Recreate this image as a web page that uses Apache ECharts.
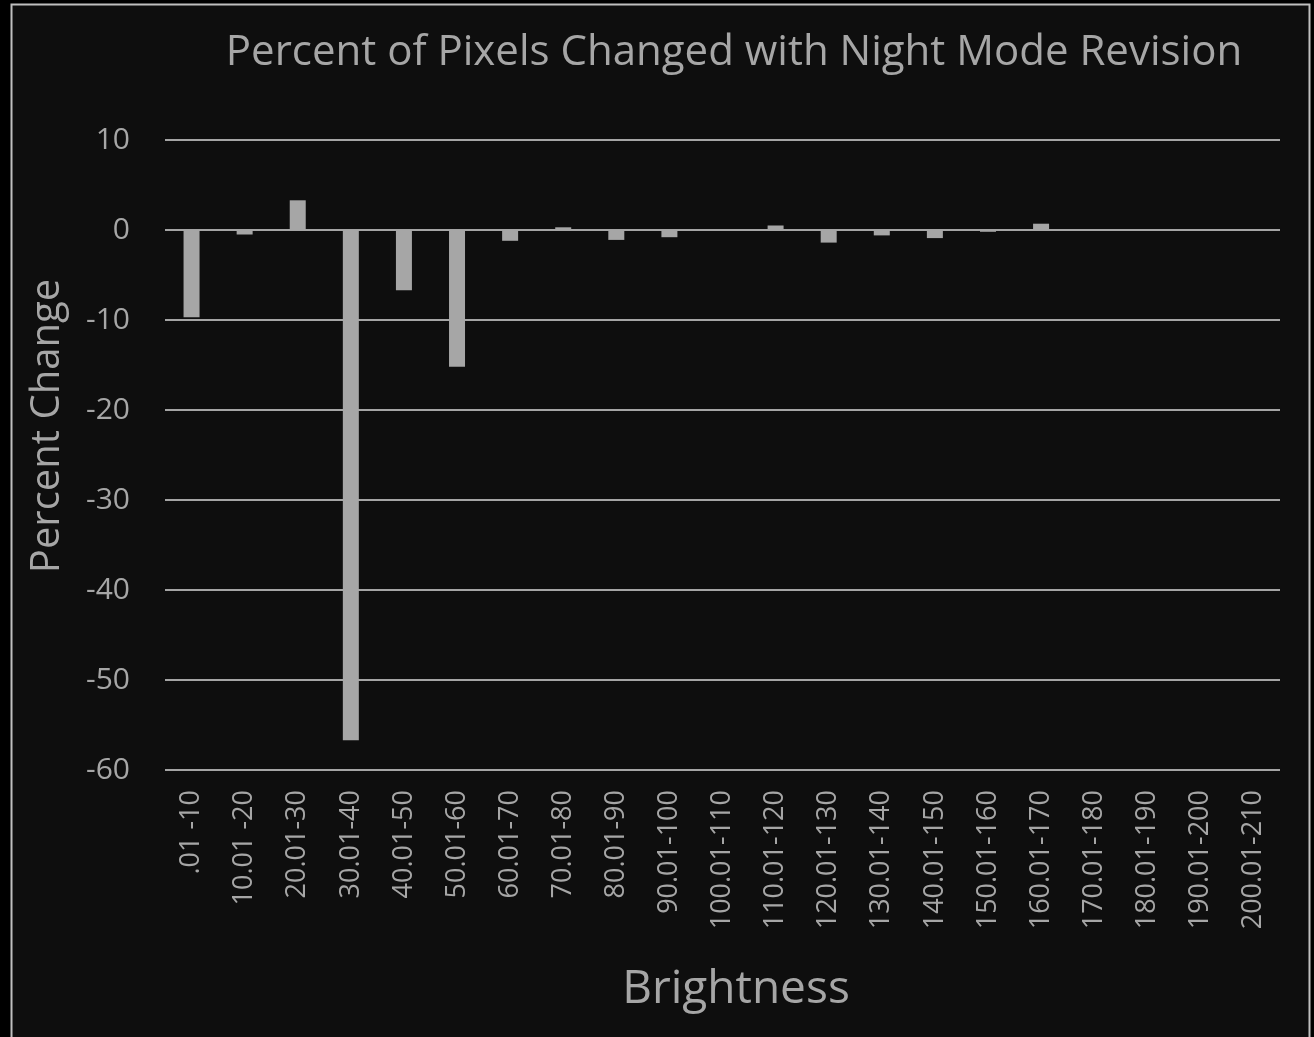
<!DOCTYPE html>
<html>
<head>
<meta charset="utf-8">
<script src="https://cdn.jsdelivr.net/npm/echarts@6/dist/echarts.min.js"></script>
<style>
  html, body { margin: 0; padding: 0; background: #000; }
  #chart { width: 1314px; height: 1037px; }
</style>
</head>
<body>
<div id="chart"></div>
<script>
// Brightness bins (pixel brightness ranges)
const categories = [
  '.01 -10', '10.01 -20', '20.01-30', '30.01-40', '40.01-50', '50.01-60',
  '60.01-70', '70.01-80', '80.01-90', '90.01-100', '100.01-110', '110.01-120',
  '120.01-130', '130.01-140', '140.01-150', '150.01-160', '160.01-170',
  '170.01-180', '180.01-190', '190.01-200', '200.01-210'
];
// Percent change of pixels in each bin after the night mode revision
const percentChange = [
  -9.7, -0.5, 3.3, -56.7, -6.7, -15.2,
  -1.2, 0.3, -1.1, -0.8, 0, 0.5,
  -1.4, -0.6, -0.9, -0.2, 0.7,
  0, 0, 0, 0
];
const yTicks = { min: -60, max: 10, step: 10 };

const textColor = '#a6a6a6';
const fontFamily = '"Open Sans", "Liberation Sans", sans-serif';

const chart = echarts.init(document.getElementById('chart'), null, { renderer: 'canvas' });
chart.setOption({
  backgroundColor: '#000',
  animation: false,
  graphic: [{
    type: 'rect',
    shape: { x: 11.5, y: 4.5, width: 1298, height: 1040 },
    style: { fill: '#0e0e0e', stroke: '#bfbfbf', lineWidth: 2 },
    z: -10
  }, {
    // vertical axis title
    type: 'text',
    x: 48,
    y: 426,
    rotation: Math.PI / 2,
    style: {
      text: 'Percent Change',
      fill: textColor,
      font: '40px ' + fontFamily,
      textAlign: 'center',
      textVerticalAlign: 'middle'
    }
  }, {
    // horizontal axis title
    type: 'text',
    x: 736,
    y: 990,
    style: {
      text: 'Brightness',
      fill: textColor,
      font: '46px ' + fontFamily,
      textAlign: 'center',
      textVerticalAlign: 'middle'
    }
  }],
  title: {
    text: 'Percent of Pixels Changed with Night Mode Revision',
    left: 729,
    top: 27,
    textAlign: 'center',
    textStyle: { color: textColor, fontFamily, fontSize: 42, fontWeight: 'normal' }
  },
  grid: { left: 165, right: 34, top: 140, bottom: 267, containLabel: false },
  xAxis: {
    type: 'category',
    data: categories,
    axisLine: { show: false },
    axisTick: { show: false },
    axisLabel: {
      rotate: 90,
      interval: 0,
      margin: 20,
      color: textColor,
      fontFamily,
      fontSize: 27
    }
  },
  yAxis: {
    type: 'value',
    min: yTicks.min,
    max: yTicks.max,
    interval: yTicks.step,
    axisLine: { show: false },
    axisTick: { show: false },
    axisLabel: { margin: 35, color: textColor, fontFamily, fontSize: 30 },
    splitLine: { lineStyle: { color: '#d9d9d9', width: 1.5 } }
  },
  series: [{
    type: 'bar',
    data: percentChange,
    barWidth: 16,
    itemStyle: { color: '#a6a6a6' }
  }]
});
</script>
</body>
</html>
